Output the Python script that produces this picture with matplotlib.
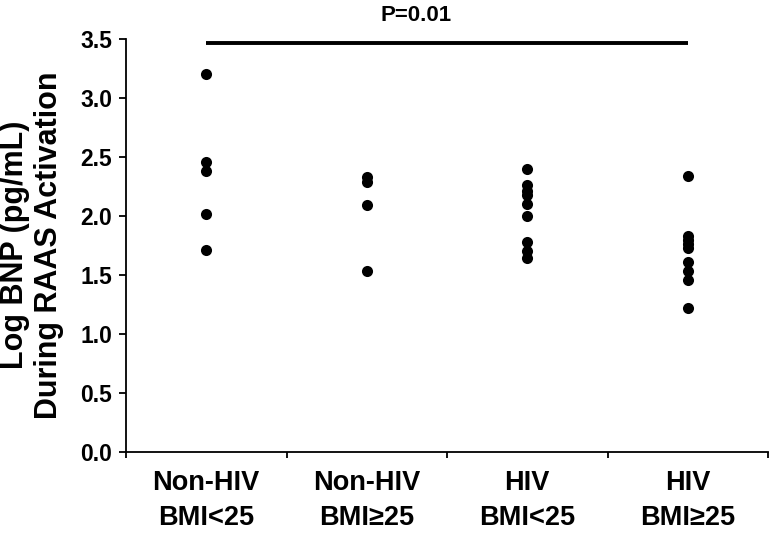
import matplotlib
matplotlib.use("Agg")
import matplotlib.pyplot as plt
import numpy as np

plt.rcParams['font.family'] = ['Liberation Sans', 'DejaVu Sans']
plt.rcParams['font.weight'] = 'bold'

categories = ["Non-HIV\nBMI<25", "Non-HIV\nBMI\u226525", "HIV\nBMI<25", "HIV\nBMI\u226525"]
nonhiv_bmi_lt25 = [3.20, 2.46, 2.38, 2.02, 1.71]
nonhiv_bmi_ge25 = [2.33, 2.29, 2.09, 1.53]
hiv_bmi_lt25 = [2.40, 2.26, 2.21, 2.18, 2.10, 2.00, 1.78, 1.70, 1.64]
hiv_bmi_ge25 = [2.34, 1.83, 1.80, 1.76, 1.73, 1.61, 1.53, 1.46, 1.22]
groups = [nonhiv_bmi_lt25, nonhiv_bmi_ge25, hiv_bmi_lt25, hiv_bmi_ge25]
y_ticks = [0.0, 0.5, 1.0, 1.5, 2.0, 2.5, 3.0, 3.5]
p_text = "P=0.01"
sig_y = 3.47

fig = plt.figure(figsize=(7.73, 5.34), dpi=100)
ax = fig.add_axes([126/773, 82/534, 642/773, 413/534])

for i, vals in enumerate(groups):
    ax.scatter(np.full(len(vals), i), vals, s=64, color='black', zorder=3, linewidths=0)

ax.set_xlim(-0.5, 3.5)
ax.set_ylim(0, 3.5)
ax.set_yticks(y_ticks)
ax.set_yticklabels([f"{v:.1f}" for v in y_ticks], fontsize=16.5, fontweight='bold')

ax.set_xticks(np.arange(-0.5, 4.0, 1.0))
ax.set_xticklabels([])
ax.set_xticks(np.arange(len(categories)), minor=True)
ax.set_xticklabels(categories, minor=True, fontsize=19.5, fontweight='bold', linespacing=1.45)
ax.tick_params(axis='x', which='major', direction='out', length=4, width=1.3)
ax.tick_params(axis='x', which='minor', length=0, pad=13)
ax.tick_params(axis='y', direction='out', length=5, width=1.3, pad=5)

for s in ['top', 'right']:
    ax.spines[s].set_visible(False)
for s in ['left', 'bottom']:
    ax.spines[s].set_linewidth(1.3)
    ax.spines[s].set_color('black')

# significance bar
ax.plot([0, 3], [sig_y, sig_y], color='black', lw=2.8, clip_on=False, solid_capstyle='butt')
ax.text(1.31, 3.65, p_text, ha='center', va='baseline', fontsize=16, fontweight='bold', clip_on=False)

fig.text(32/773, 1 - 245/534, "Log BNP (pg/mL)\nDuring RAAS Activation", rotation=90,
         ha='center', va='center', fontsize=22, fontweight='bold', linespacing=1.2,
         multialignment='center')

fig.savefig("out.png", dpi=100)
